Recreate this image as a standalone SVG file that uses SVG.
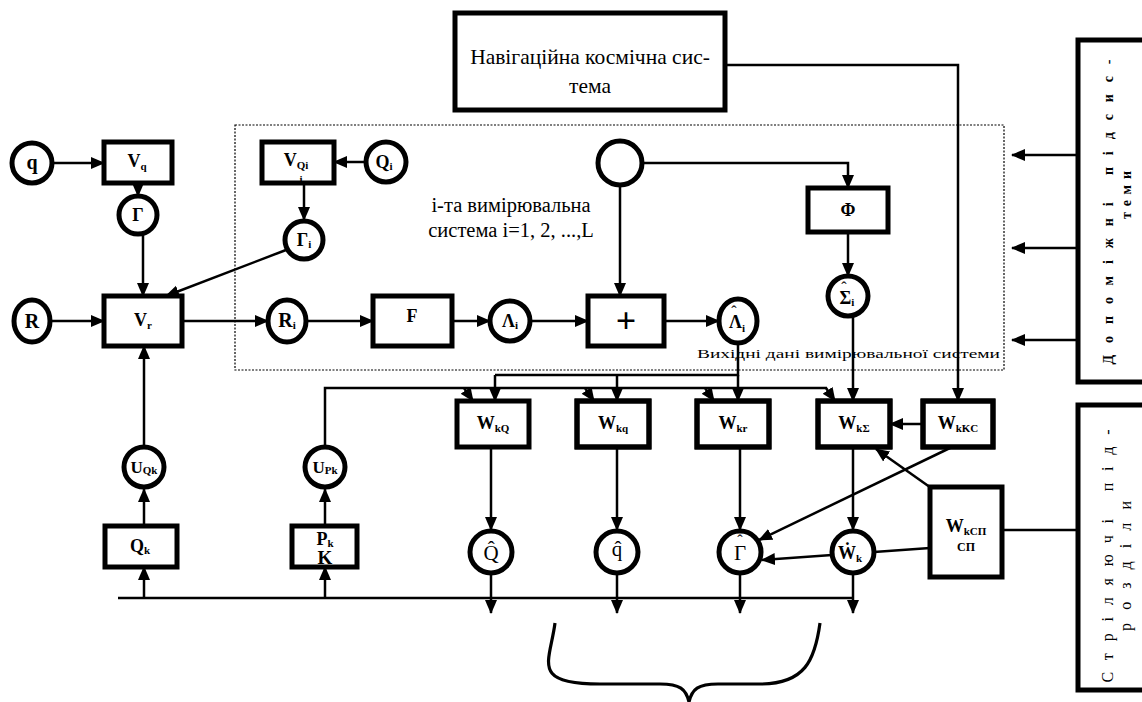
<svg xmlns="http://www.w3.org/2000/svg" width="1142" height="702" viewBox="0 0 1142 702" font-family="'Liberation Serif','Times New Roman','DejaVu Serif',serif">
<style>
.bx{fill:#fff;stroke:#000;stroke-width:5}
.nd{fill:#fff;stroke:#000;stroke-width:5}
.ln{fill:none;stroke:#000;stroke-width:2.5}
.ar{fill:none;stroke:#000;stroke-width:2.5;marker-end:url(#ah)}
text{font-family:'Liberation Serif','Times New Roman','DejaVu Serif',serif;fill:#000}
.t{font-weight:bold;font-size:18px;text-anchor:middle}
.s{font-size:11px}
.hn{font-weight:normal;font-size:21px}
.h{font-size:16px;text-anchor:middle}
.r{font-size:20.5px}
</style>
<defs>
<marker id="ah" markerWidth="14" markerHeight="14" refX="13" refY="7" orient="auto" markerUnits="userSpaceOnUse"><path d="M0,1 L14,7 L0,13 z" fill="#000"/></marker>
<clipPath id="cq"><rect x="577" y="401" width="72" height="46"/></clipPath>
<clipPath id="cr"><rect x="697" y="401" width="72" height="46"/></clipPath>
<clipPath id="cs"><rect x="818" y="401" width="72" height="46"/></clipPath>
<clipPath id="ck"><rect x="923" y="401" width="70" height="46"/></clipPath>
</defs>

<rect x="235" y="125" width="769" height="245" fill="none" stroke="#000" stroke-width="1.2" stroke-dasharray="2,1.5"/>
<text class="r" x="511" y="212" text-anchor="middle">і-та вимірювальна</text>
<text class="r" x="511" y="237" text-anchor="middle">система і=1, 2, ...,L</text>
<text x="697" y="358" style="font-size:13px" textLength="303" lengthAdjust="spacingAndGlyphs">Вихідні дані вимірювальної системи</text>

<g id="connectors">
<line class="ar" x1="53" y1="163" x2="104" y2="163"/>
<line class="ar" x1="138" y1="184" x2="138" y2="196"/>
<line class="ar" x1="366" y1="162" x2="334" y2="162"/>
<line class="ar" x1="304" y1="184" x2="304" y2="220"/>
<line class="ar" x1="286" y1="250" x2="166" y2="296"/>
<line class="ar" x1="143" y1="235" x2="143" y2="296"/>
<line class="ar" x1="50" y1="321" x2="104" y2="321"/>
<line class="ar" x1="182" y1="321" x2="268" y2="321"/>
<line class="ar" x1="306" y1="321" x2="373" y2="321"/>
<line class="ar" x1="452" y1="321" x2="490" y2="321"/>
<line class="ar" x1="530" y1="321" x2="588" y2="321"/>
<line class="ar" x1="664" y1="321" x2="719" y2="321"/>
<line class="ar" x1="620" y1="185" x2="620" y2="296"/>
<polyline class="ar" points="642,163 848,163 848,188"/>
<line class="ar" x1="848" y1="232" x2="848" y2="276"/>
<polyline class="ln" points="738,343 738,375 495,375"/>
<line class="ar" x1="495" y1="375" x2="495" y2="401"/>
<line class="ar" x1="617" y1="375" x2="617" y2="401"/>
<line class="ar" x1="738" y1="375" x2="738" y2="401"/>
<polyline class="ln" points="325,448 325,388 827,388"/>
<line class="ar" x1="464" y1="388" x2="473" y2="401"/>
<line class="ar" x1="585" y1="388" x2="594" y2="401"/>
<line class="ar" x1="705" y1="388" x2="714" y2="401"/>
<line class="ar" x1="826" y1="388" x2="835" y2="401"/>
<line class="ar" x1="853" y1="316" x2="853" y2="401"/>
<polyline class="ar" points="725,65 958,65 958,401"/>
<line class="ar" x1="923" y1="424" x2="890" y2="424"/>
<line class="ar" x1="491" y1="447" x2="491" y2="530"/>
<line class="ar" x1="617" y1="447" x2="617" y2="530"/>
<line class="ar" x1="740" y1="447" x2="740" y2="530"/>
<line class="ar" x1="853" y1="447" x2="853" y2="530"/>
<line class="ar" x1="952" y1="447" x2="759" y2="540"/>
<line class="ar" x1="934" y1="490" x2="876" y2="449"/>
<line class="ar" x1="930" y1="548" x2="762" y2="560"/>
<line class="ar" x1="144" y1="448" x2="144" y2="346"/>
<line class="ar" x1="144" y1="526" x2="144" y2="489"/>
<line class="ar" x1="325" y1="526" x2="325" y2="489"/>
<polyline class="ln" points="118,598 853,598"/>
<line class="ar" x1="144" y1="598" x2="144" y2="567"/>
<line class="ar" x1="325" y1="598" x2="325" y2="567"/>
<line class="ar" x1="491" y1="574" x2="491" y2="613"/>
<line class="ar" x1="617" y1="574" x2="617" y2="613"/>
<line class="ar" x1="740" y1="574" x2="740" y2="613"/>
<line class="ar" x1="853" y1="574" x2="853" y2="613"/>
<line class="ar" x1="1078" y1="155" x2="1012" y2="155"/>
<line class="ar" x1="1078" y1="248" x2="1012" y2="248"/>
<line class="ar" x1="1078" y1="340" x2="1012" y2="340"/>
<line class="ln" x1="1002" y1="530" x2="1078" y2="530"/>
</g>

<path d="M555,623 C550,662 530,684 600,684 L660,684 C680,684 686,689 689,702 C692,689 698,684 718,684 L760,684 C805,684 815,660 820,623" fill="none" stroke="#000" stroke-width="3.2"/>

<g id="nav"><rect class="bx" x="455" y="13" width="270" height="97"/>
<text class="r" x="590" y="64" text-anchor="middle" style="font-size:21.5px">Навігаційна космічна сис-</text>
<text class="r" x="590" y="93" text-anchor="middle" style="font-size:21.5px">тема</text></g>

<g id="q"><circle class="nd" cx="32" cy="163" r="20"/><text class="t" x="32" y="169" style="font-size:20px">q</text></g>
<g id="Vq"><rect class="bx" x="104" y="142" width="68" height="41"/><text class="t" x="137" y="167">V<tspan class="s" dy="3">q</tspan></text></g>
<g id="G"><circle class="nd" cx="138" cy="215" r="19"/><text class="t" x="138" y="221">Γ</text></g>
<g id="VQi"><rect class="bx" x="262" y="142" width="72" height="41"/><text class="t" x="296" y="166">V<tspan class="s" dy="3">Qi</tspan></text><text class="t" x="301" y="183" style="font-size:11px">i</text></g>
<g id="Qi"><circle class="nd" cx="386" cy="162" r="20"/><text class="t" x="384" y="168">Q<tspan class="s" dy="2">i</tspan></text><text class="t" x="391" y="181" style="font-size:11px">.</text></g>
<g id="Gi"><circle class="nd" cx="304" cy="240" r="19"/><text class="t" x="304" y="246">Γ<tspan class="s" dy="2">i</tspan></text></g>
<g id="R"><ellipse class="nd" cx="32" cy="321" rx="18" ry="21"/><text class="t" x="32" y="328" style="font-size:20px">R</text></g>
<g id="Vr"><rect class="bx" x="104" y="296" width="78" height="50"/><text class="t" x="143" y="326">V<tspan class="s" dy="3">r</tspan></text></g>
<g id="Ri"><ellipse class="nd" cx="287" cy="321" rx="19" ry="21"/><text class="t" x="287" y="327" style="font-size:20px">R<tspan class="s" dy="2">i</tspan></text></g>
<g id="F"><rect class="bx" x="373" y="296" width="79" height="50"/><text class="t" x="412" y="322">F</text></g>
<g id="Li"><ellipse class="nd" cx="510" cy="321" rx="20" ry="20"/><text class="t" x="510" y="327">Λ<tspan class="s" dy="2">i</tspan></text></g>
<g id="plus"><rect class="bx" x="588" y="296" width="76" height="50"/><text class="t" x="626" y="333" style="font-size:36px">+</text></g>
<g id="Lhat"><ellipse class="nd" cx="738" cy="321" rx="19" ry="22"/><text class="t" x="737" y="328">Λ<tspan class="s" dy="4">i</tspan></text><text class="h" x="734" y="317">ˆ</text></g>
<g id="top"><circle class="nd" cx="620" cy="163" r="22"/></g>
<g id="Phi"><rect class="bx" x="808" y="188" width="80" height="44"/><text class="t" x="848" y="216">Φ</text></g>
<g id="Shat"><circle class="nd" cx="848" cy="296" r="20"/><text class="t" x="847" y="304">Σ<tspan class="s" dy="2">i</tspan></text><text class="h" x="844" y="293">ˆ</text></g>

<g id="WkQ"><rect class="bx" x="457" y="401" width="72" height="46"/><text class="t" x="493" y="429">W<tspan class="s" dy="3">kQ</tspan></text></g>
<g id="Wkq"><rect class="bx" x="577" y="401" width="72" height="46"/><text class="t" x="613" y="429">W<tspan class="s" dy="3">kq</tspan></text><text class="t" x="604" y="458" clip-path="url(#cq)" style="font-size:16px">k</text><rect x="577" y="401" width="72" height="46" fill="none" stroke="#000" stroke-width="5"/></g>
<g id="Wkr"><rect class="bx" x="697" y="401" width="72" height="46"/><text class="t" x="733" y="429">W<tspan class="s" dy="3">kr</tspan></text><text class="t" x="724" y="458" clip-path="url(#cr)" style="font-size:16px">k</text><rect x="697" y="401" width="72" height="46" fill="none" stroke="#000" stroke-width="5"/></g>
<g id="WkS"><rect class="bx" x="818" y="401" width="72" height="46"/><text class="t" x="854" y="429">W<tspan class="s" dy="3">kΣ</tspan></text><text class="t" x="854" y="462" clip-path="url(#cs)" style="font-size:20px">-Σ</text><rect x="818" y="401" width="72" height="46" fill="none" stroke="#000" stroke-width="5"/></g>
<g id="WkKC"><rect class="bx" x="923" y="401" width="70" height="46"/><text class="t" x="958" y="429">W<tspan class="s" dy="3">kKC</tspan></text><text class="t" x="960" y="462" clip-path="url(#ck)" style="font-size:24px">kKC</text><rect x="923" y="401" width="70" height="46" fill="none" stroke="#000" stroke-width="5"/></g>

<g id="UQk"><circle class="nd" cx="144" cy="467" r="20"/><text class="t" x="144" y="473" style="font-size:17px">U<tspan class="s" dy="1">Qk</tspan></text></g>
<g id="UPk"><circle class="nd" cx="325" cy="467" r="20"/><text class="t" x="325" y="473" style="font-size:17px">U<tspan class="s" dy="1">Pk</tspan></text></g>
<g id="Qk"><rect class="bx" x="105" y="526" width="72" height="41"/><text class="t" x="140" y="552">Q<tspan class="s" dy="2">k</tspan></text></g>
<g id="Pk"><rect class="bx" x="292" y="526" width="65" height="41"/><text class="t" x="325" y="545">P<tspan class="s" dy="2">k</tspan></text><text class="t" x="325" y="564" style="font-size:19px">K</text></g>

<g id="Qhat"><circle class="nd" cx="491" cy="552" r="21"/><text class="t hn" x="491" y="560">Q̂</text></g>
<g id="qhat"><circle class="nd" cx="617" cy="552" r="21"/><text class="t hn" x="617" y="556">q̂</text></g>
<g id="Ghat"><circle class="nd" cx="740" cy="552" r="21"/><text class="t hn" x="740" y="560">Γ</text><text class="h" x="740" y="546">ˆ</text></g>
<g id="Wk"><circle class="nd" cx="853" cy="552" r="21"/><text class="t" x="850" y="559" style="font-size:18px">Ẇ<tspan class="s" dy="3">k</tspan></text></g>

<g id="WkCP"><rect class="bx" x="930" y="487" width="72" height="90"/><text class="t" x="966" y="532">W<tspan class="s" dy="3">kСП</tspan></text><text class="t" x="966" y="551" style="font-size:12px">СП</text></g>

<g id="aux"><rect x="1078" y="40" width="80" height="342" fill="#fff" stroke="#000" stroke-width="5"/>
<text class="t" transform="translate(1113,212) rotate(-90)" style="font-size:14px" textLength="305" lengthAdjust="spacing">Допоміжні підсис-</text>
<text class="t" transform="translate(1131,195) rotate(-90)" style="font-size:14px" textLength="48" lengthAdjust="spacing">теми</text></g>

<g id="fire"><rect x="1078" y="405" width="80" height="285" fill="#fff" stroke="#000" stroke-width="5"/>
<text class="t" transform="translate(1113,556) rotate(-90)" style="font-weight:normal;font-size:16px" textLength="253" lengthAdjust="spacing">Стріляючі під-</text>
<text class="t" transform="translate(1131,566) rotate(-90)" style="font-weight:normal;font-size:16px" textLength="130" lengthAdjust="spacing">розділи</text></g>
</svg>
